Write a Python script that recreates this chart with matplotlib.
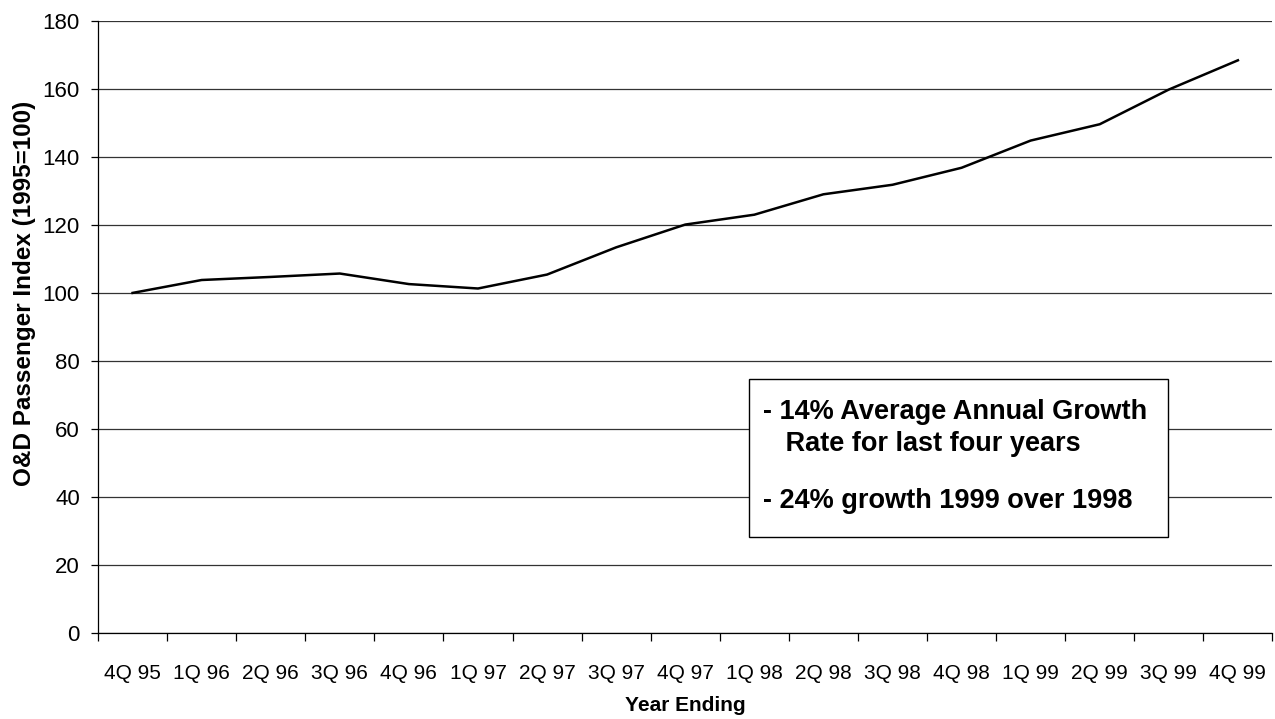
import matplotlib.pyplot as plt
from matplotlib.patches import Rectangle
import numpy as np

plt.rcParams['font.family'] = ['Liberation Sans', 'DejaVu Sans']

quarters = ["4Q 95", "1Q 96", "2Q 96", "3Q 96", "4Q 96", "1Q 97", "2Q 97",
            "3Q 97", "4Q 97", "1Q 98", "2Q 98", "3Q 98", "4Q 98", "1Q 99",
            "2Q 99", "3Q 99", "4Q 99"]
index_values = [100, 103.8, 104.7, 105.7, 102.6, 101.3, 105.4, 113.4, 120.1,
                123.0, 129.0, 131.8, 136.8, 144.8, 149.6, 159.8, 168.4]

fig = plt.figure(figsize=(12.75, 7.19), dpi=100)
ax = fig.add_axes([0.0769, 0.1196, 0.9211, 0.8514])

x = np.arange(len(quarters))
ax.plot(x, index_values, color="black", linewidth=1.8)

ax.set_xlim(-0.5, len(quarters) - 0.5)
ax.set_ylim(0, 180)
ax.set_yticks(range(0, 181, 20))
ax.yaxis.grid(True, color="#333333", linewidth=0.9)
ax.set_axisbelow(True)

ax.set_xticks(x)
ax.set_xticklabels(quarters, fontsize=15)
ax.tick_params(axis="x", which="major", length=0, pad=22)
ax.set_xticks(np.arange(-0.5, len(quarters), 1), minor=True)
ax.tick_params(axis="x", which="minor", length=6, width=0.9, direction="out")
ax.tick_params(axis="y", length=5, width=0.9, labelsize=16, pad=8)

for side in ["top", "right"]:
    ax.spines[side].set_visible(False)
ax.spines["left"].set_linewidth(0.9)
ax.spines["bottom"].set_linewidth(0.9)

ax.set_xlabel("Year Ending", fontsize=15, fontweight="bold", labelpad=10)
ax.set_ylabel("O&D Passenger Index (1995=100)", fontsize=17.5, fontweight="bold")
ax.yaxis.set_label_coords(-0.053, 0.554)

# annotation box
tr = ax.get_yaxis_transform()
ax.add_patch(Rectangle((0.554, 28.2), 0.357, 46.5, transform=tr,
                       facecolor="white", edgecolor="black", linewidth=1.0, zorder=3))
ax.text(0.566, 65.0, "- 14% Average Annual Growth", transform=tr,
        fontsize=19.5, fontweight="bold", va="center", zorder=4)
ax.text(0.566, 55.7, "   Rate for last four years", transform=tr,
        fontsize=19.5, fontweight="bold", va="center", zorder=4)
ax.text(0.566, 38.7, "- 24% growth 1999 over 1998", transform=tr,
        fontsize=19.5, fontweight="bold", va="center", zorder=4)

fig.savefig("out.png", dpi=100)
